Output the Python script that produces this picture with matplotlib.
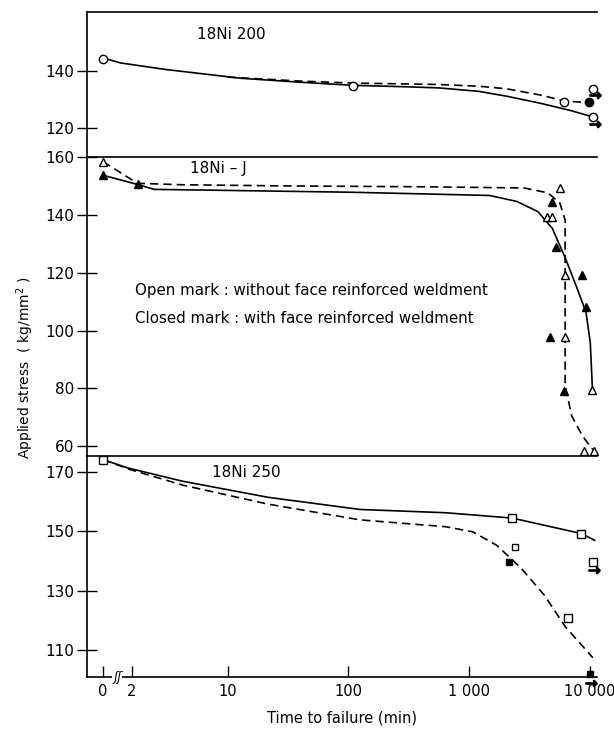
import numpy as np
import matplotlib
matplotlib.use("Agg")
import matplotlib.pyplot as plt

# time axis: 0..2 linear, 2..10 squeezed log, >=10 plain log (as drawn in the original)
def fwd(t):
    t = np.asarray(t, dtype=float)
    lg = np.log10(np.maximum(t, 1e-9))
    lin = -0.033 + t * 0.12
    mid = 0.207 + (lg - np.log10(2)) * (1 - 0.207) / (1 - np.log10(2))
    return np.where(t < 2, lin, np.where(t < 10, mid, lg))

def inv(u):
    u = np.asarray(u, dtype=float)
    lin = (u + 0.033) / 0.12
    lg = np.log10(2) + (u - 0.207) * (1 - np.log10(2)) / (1 - 0.207)
    return np.where(u < 0.207, lin, np.where(u < 1, 10 ** np.minimum(lg, 5), 10 ** np.minimum(u, 6)))

# ---- 18Ni 200 ----
ni200_open_t = [0, 110, 6150]
ni200_open_s = [144.2, 134.8, 129.2]
ni200_closed_t = [9800]
ni200_closed_s = [128.9]
ni200_run_t = [10600, 10600]
ni200_run_s = [123.6, 133.6]
ni200_solid_t = [0, 1.2, 3.5, 12.8, 40, 110, 300, 562, 1200, 2040, 4000, 7000, 10600]
ni200_solid_s = [144.6, 142.8, 140.5, 137.4, 136.0, 134.9, 134.4, 134.0, 132.8, 131.1, 128.5, 126.0, 123.8]
ni200_dash_t = [10, 40, 110, 300, 562, 1200, 2040, 4000, 6150, 9800]
ni200_dash_s = [137.8, 136.4, 135.7, 135.4, 135.2, 134.6, 133.7, 131.4, 129.4, 128.8]

# ---- 18Ni-J ----
nij_open_t = [0, 5620, 4400, 4900, 6180, 6250, 10500, 9000, 10800]
nij_open_s = [158.4, 149.3, 139.4, 139.4, 119.1, 97.8, 79.4, 58.5, 58.3]
nij_closed_t = [0, 2.2, 4890, 5300, 8700, 9300, 4650, 6060]
nij_closed_s = [153.7, 150.5, 144.3, 128.8, 119.1, 108.2, 97.8, 79.0]
nij_solid_t = [0, 2.2, 2.9, 8.3, 110, 1480, 2500, 3720, 4900, 6250, 7850, 9300, 10100, 10500]
nij_solid_s = [153.7, 150.5, 148.8, 148.5, 147.8, 146.7, 144.6, 141.1, 135.3, 125.2, 114.6, 106.4, 95.8, 80.5]
nij_dash_t = [0, 2.2, 4.7, 29.9, 405, 2860, 4500, 5650, 6250, 6250, 6250, 7080, 8700, 10600]
nij_dash_s = [158.4, 150.9, 150.4, 150.0, 149.7, 149.3, 147.6, 144.1, 138.2, 95.0, 81.1, 70.5, 63.5, 58.8]

# ---- 18Ni 250 ----
ni250_open_t = [0, 2280, 8500, 6610]
ni250_open_s = [174.2, 154.5, 149.3, 120.8]
ni250_small_t = [2420]
ni250_small_s = [144.8]
ni250_closed_t = [2140]
ni250_closed_s = [139.8]
ni250_run_t = [10600]
ni250_run_s = [139.6]
ni250_runc_t = [10000]
ni250_runc_s = [101.9]
ni250_solid_t = [0, 1.7, 4.7, 21.6, 125, 638, 2280, 8500, 11000]
ni250_solid_s = [174.2, 171.4, 166.9, 161.5, 157.4, 156.3, 154.5, 149.3, 147.0]
ni250_dash_t = [0, 1.9, 4.7, 21.6, 125, 638, 1070, 1700, 2690, 4230, 6250, 10600]
ni250_dash_s = [174.2, 170.8, 165.6, 159.2, 153.9, 151.6, 149.9, 145.3, 137.7, 128.4, 118.0, 107.5]

xticks = [0, 2, 10, 100, 1000, 10000]
xticklabels = ["0", "2", "10", "100", "1 000", "10 000"]

W, H = 614, 736
fig = plt.figure(figsize=(W / 100, H / 100), dpi=100)
left, right = 87 / W, 597 / W
def add(top_px, bot_px):
    return fig.add_axes([left, 1 - bot_px / H, right - left, (bot_px - top_px) / H])

ax1 = add(12, 157)
ax2 = add(157, 456)
ax3 = add(456, 677)

for ax in (ax1, ax2, ax3):
    ax.set_xscale("function", functions=(fwd, inv))
    ax.set_xlim(-1.1, 11480)
    ax.spines["right"].set_visible(False)
    for sp in ax.spines.values():
        sp.set_linewidth(1.2)
    ax.tick_params(axis="y", direction="inout", length=14, width=1, labelsize=11, pad=2)
    ax.tick_params(axis="x", which="both", bottom=False, labelbottom=False)
    ax.xaxis.set_minor_locator(plt.NullLocator())

lw = 1.2
ms = 6
dash = (0, (5, 3))

# top panel
ax1.set_ylim(109.7, 160.7)
ax1.set_yticks([120, 140])
ax1.spines["bottom"].set_visible(False)
ax1.plot(ni200_solid_t, ni200_solid_s, color="k", lw=lw)
ax1.plot(ni200_dash_t, ni200_dash_s, color="k", lw=lw, ls=dash)
ax1.plot(ni200_open_t, ni200_open_s, "o", ms=ms, mfc="white", mec="k")
ax1.plot(ni200_closed_t, ni200_closed_s, "o", ms=ms, mfc="k", mec="k")
ax1.plot(ni200_run_t, ni200_run_s, "o", ms=ms, mfc="white", mec="k", clip_on=False)
ax1.plot(np.array(ni200_run_t) * 1.05, np.array(ni200_run_s) - 2.2, marker=r"$\rightarrow$",
         ms=8, color="k", ls="none", clip_on=False)
ax1.text(6.0, 152.8, "18Ni 200", fontsize=11, va="center")

# middle panel
ax2.set_ylim(56.6, 160)
ax2.set_yticks([60, 80, 100, 120, 140, 160])
ax2.spines["bottom"].set_visible(False)
ax2.plot(nij_solid_t, nij_solid_s, color="k", lw=lw)
ax2.plot(nij_dash_t, nij_dash_s, color="k", lw=lw, ls=dash)
ax2.plot(nij_open_t, nij_open_s, "^", ms=ms, mfc="white", mec="k", clip_on=False)
ax2.plot(nij_closed_t, nij_closed_s, "^", ms=ms, mfc="k", mec="k", clip_on=False)
ax2.text(5.3, 155.9, "18Ni – J", fontsize=11, va="center")
ax2.text(2.1, 114, "Open mark : without face reinforced weldment", fontsize=10.8, va="center")
ax2.text(2.1, 104, "Closed mark : with face reinforced weldment", fontsize=10.8, va="center")

# bottom panel
ax3.set_ylim(101, 175.4)
ax3.set_yticks([110, 130, 150, 170])
ax3.plot(ni250_solid_t, ni250_solid_s, color="k", lw=lw)
ax3.plot(ni250_dash_t, ni250_dash_s, color="k", lw=lw, ls=dash)
ax3.plot(ni250_open_t, ni250_open_s, "s", ms=ms, mfc="white", mec="k", clip_on=False)
ax3.plot(ni250_small_t, ni250_small_s, "s", ms=4.5, mfc="white", mec="k")
ax3.plot(ni250_closed_t, ni250_closed_s, "s", ms=5, mfc="k", mec="k")
ax3.plot(ni250_run_t, ni250_run_s, "s", ms=ms, mfc="white", mec="k", clip_on=False)
ax3.plot(ni250_runc_t, ni250_runc_s, "s", ms=5, mfc="k", mec="k", clip_on=False)
ax3.plot([ni250_run_t[0] * 1.03, ni250_runc_t[0] * 1.03],
         [ni250_run_s[0] - 2.5, ni250_runc_s[0] - 2.8], marker=r"$\rightarrow$",
         ms=8, color="k", ls="none", clip_on=False)
ax3.text(7.7, 170, "18Ni 250", fontsize=11, va="center")

ax3.tick_params(axis="x", which="major", bottom=True, labelbottom=True, direction="in",
                length=8, width=1, labelsize=10.5, pad=5)
ax3.set_xticks(xticks)
ax3.set_xticklabels(xticklabels)
ax3.get_xticklabels()[-1].set_horizontalalignment("center")
ax3.text(1.0, 101, "ʃʃ", fontsize=9, ha="center", va="center", style="italic",
         bbox=dict(fc="white", ec="none", pad=0.5))
ax3.set_xlabel("Time to failure (min)", fontsize=10.5, labelpad=8)

fig.text(25 / W, 0.5, "Applied stress  ( kg/mm$^2$ )", rotation=90, fontsize=10,
         ha="center", va="center")

fig.savefig("out.png", dpi=100)
